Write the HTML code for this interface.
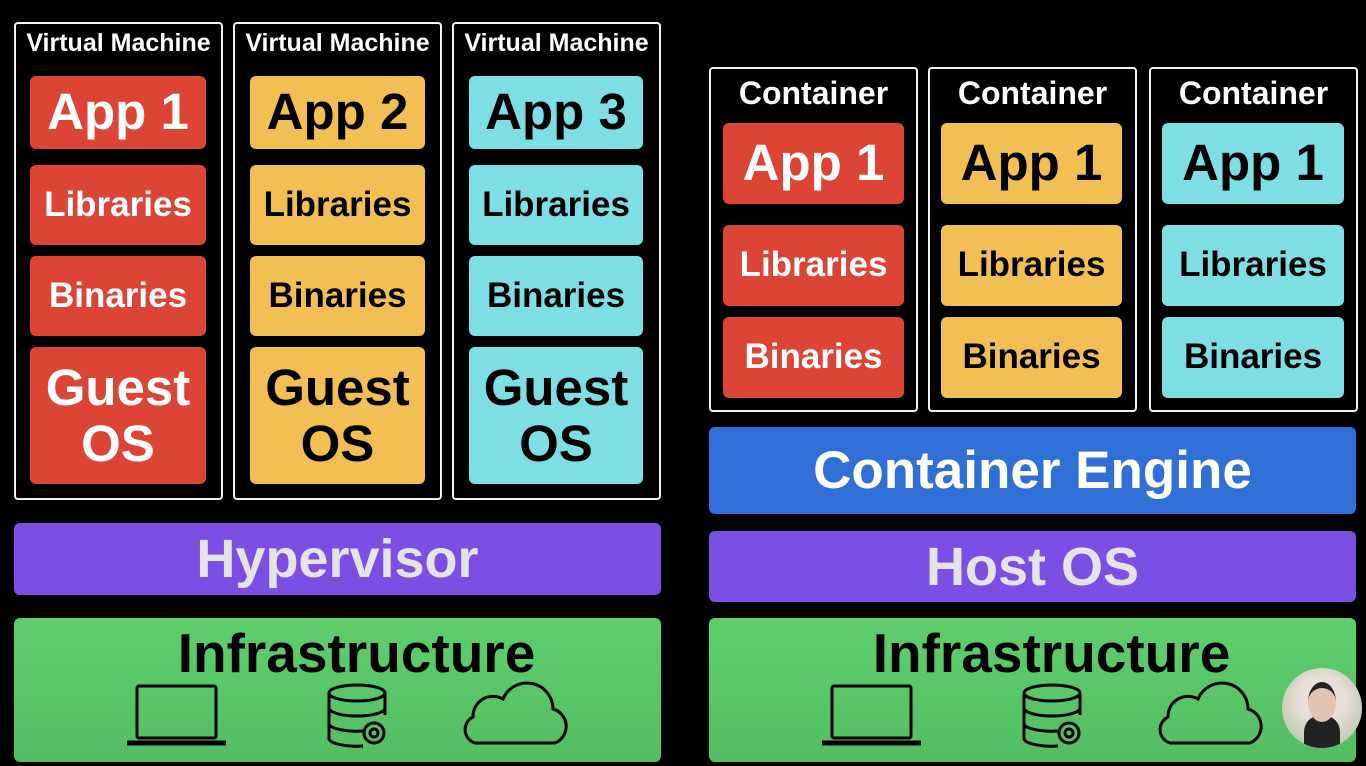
<!DOCTYPE html>
<html><head><meta charset="utf-8"><style>
body{margin:0;width:1366px;height:766px;background:#000;position:relative;overflow:hidden;font-family:"Liberation Sans","DejaVu Sans",sans-serif;font-weight:bold}
.b{position:absolute;box-sizing:border-box}
.frame{border:2px solid #f2f2f2;border-radius:4px}
.t{position:absolute;left:-20px;right:-20px;text-align:center;color:#fff;white-space:nowrap}
.box{position:absolute;border-radius:6px;display:flex;align-items:center;justify-content:center;text-align:center;line-height:1.1;white-space:nowrap}
.r{background:#dc4436;color:#fff}.y{background:#f2bf55;color:#000}.c{background:#7ddfe3;color:#000}
.pur{background:#7c4fe4;border-radius:6px;color:#e4e4e4;display:flex;align-items:center;justify-content:center;font-size:54px}
.grn{background:linear-gradient(#5ecf6d,#54bd62);border-radius:6px}
.a{font-size:51px}.l{font-size:35px}.g{font-size:51px;line-height:1.08}
</style></head><body>

<div class="b frame" style="left:14px;top:22px;width:209px;height:478px"><div class="t" style="top:5px;font-size:25px">Virtual Machine</div></div>
<div class="b frame" style="left:233px;top:22px;width:209px;height:478px"><div class="t" style="top:5px;font-size:25px">Virtual Machine</div></div>
<div class="b frame" style="left:452px;top:22px;width:209px;height:478px"><div class="t" style="top:5px;font-size:25px">Virtual Machine</div></div>

<div class="box r a" style="left:30px;top:76px;width:176px;height:73px">App 1</div>
<div class="box r l" style="left:30px;top:165px;width:176px;height:80px">Libraries</div>
<div class="box r l" style="left:30px;top:256px;width:176px;height:80px">Binaries</div>
<div class="box r g" style="left:30px;top:347px;width:176px;height:137px">Guest<br>OS</div>

<div class="box y a" style="left:250px;top:76px;width:175px;height:73px">App 2</div>
<div class="box y l" style="left:250px;top:165px;width:175px;height:80px">Libraries</div>
<div class="box y l" style="left:250px;top:256px;width:175px;height:80px">Binaries</div>
<div class="box y g" style="left:250px;top:347px;width:175px;height:137px">Guest<br>OS</div>

<div class="box c a" style="left:469px;top:76px;width:174px;height:73px">App 3</div>
<div class="box c l" style="left:469px;top:165px;width:174px;height:80px">Libraries</div>
<div class="box c l" style="left:469px;top:256px;width:174px;height:80px">Binaries</div>
<div class="box c g" style="left:469px;top:347px;width:174px;height:137px">Guest<br>OS</div>

<div class="b pur" style="left:14px;top:523px;width:647px;height:72px">Hypervisor</div>
<div class="b grn" style="left:14px;top:618px;width:647px;height:144px"><div class="t" style="top:3px;left:18px;color:#000;font-size:55px">Infrastructure</div></div>

<div class="b frame" style="left:709px;top:67px;width:209px;height:345px"><div class="t" style="top:6px;font-size:32px">Container</div></div>
<div class="b frame" style="left:928px;top:67px;width:209px;height:345px"><div class="t" style="top:6px;font-size:32px">Container</div></div>
<div class="b frame" style="left:1149px;top:67px;width:209px;height:345px"><div class="t" style="top:6px;font-size:32px">Container</div></div>

<div class="box r a" style="left:723px;top:123px;width:181px;height:81px">App 1</div>
<div class="box r l" style="left:723px;top:225px;width:181px;height:81px">Libraries</div>
<div class="box r l" style="left:723px;top:317px;width:181px;height:81px">Binaries</div>

<div class="box y a" style="left:941px;top:123px;width:181px;height:81px">App 1</div>
<div class="box y l" style="left:941px;top:225px;width:181px;height:81px">Libraries</div>
<div class="box y l" style="left:941px;top:317px;width:181px;height:81px">Binaries</div>

<div class="box c a" style="left:1162px;top:123px;width:182px;height:81px">App 1</div>
<div class="box c l" style="left:1162px;top:225px;width:182px;height:81px">Libraries</div>
<div class="box c l" style="left:1162px;top:317px;width:182px;height:81px">Binaries</div>

<div class="b" style="left:709px;top:427px;width:647px;height:87px;background:#2f6fd6;border-radius:6px;color:#fff;font-size:53px;display:flex;align-items:center;justify-content:center">Container Engine</div>
<div class="b pur" style="left:709px;top:531px;width:647px;height:71px">Host OS</div>
<div class="b grn" style="left:709px;top:618px;width:647px;height:144px"><div class="t" style="top:3px;left:18px;color:#000;font-size:55px">Infrastructure</div></div>

<svg width="1366" height="766" style="position:absolute;left:0;top:0" fill="none" stroke="#000" stroke-width="3">
<g id="ic">
<rect x="137" y="686" width="79" height="52" rx="2"/>
<path d="M127 743h99" stroke-width="5"/>
<path d="M329 693a28 8 0 1 0 56 0a28 8 0 1 0 -56 0M329 693v46a28 8 0 0 0 34 7M385 693v22M329 708a28 8 0 0 0 56 0M329 724a28 8 0 0 0 34 7"/>
<circle cx="374" cy="733" r="10"/><circle cx="374" cy="733" r="4"/>
<path d="M475 743h80a18 18 0 0 0 -2 -34a26 26 0 0 0 -50 -10a20 20 0 0 0 -30 18a14 14 0 0 0 2 26z"/>
</g>
<use href="#ic" x="695"/>
</svg>
<div class="b" style="left:1282px;top:668px;width:80px;height:80px;border-radius:50%;background:radial-gradient(circle at 50% 40%,#e8e0d8 35%,#cfd2c0 60%,#b8bca8);overflow:hidden"><div style="position:absolute;left:22px;top:48px;width:36px;height:40px;background:#222;border-radius:40% 40% 0 0"></div><div style="position:absolute;left:26px;top:14px;width:28px;height:34px;background:#e2c4b0;border-radius:50%;border-top:6px solid #222"></div></div>
</body></html>
